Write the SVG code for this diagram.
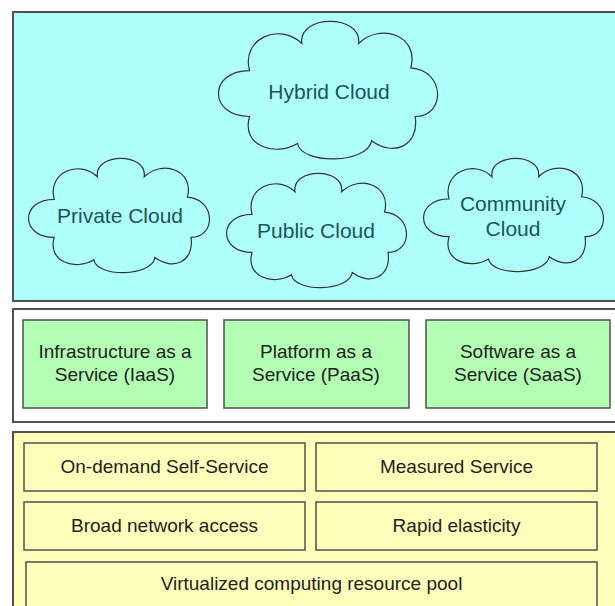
<svg xmlns="http://www.w3.org/2000/svg" width="615" height="606" viewBox="0 0 615 606">
<style>
.layer{stroke:#505050;stroke-width:2}
.box{stroke:#505050;stroke-width:1.5}
.cloud{fill:none;stroke:#333;stroke-width:1.2}
.ct{font-family:"Liberation Sans",Arial,sans-serif;font-size:21px;fill:#1a5555;text-anchor:middle}
.bt{font-family:"Liberation Sans",Arial,sans-serif;font-size:19px;fill:#222;text-anchor:middle}
</style>
<defs>
<path id="cloudShape" vector-effect="non-scaling-stroke" d="M14,70 C-5,70 -5,36 14,36 C10,12 28,0 38,16 C36,-6 66,-6 64,16 C74,0 92,10 88,34 C104,36 104,70 90,70 C92,92 80,100 70,88 C68,105 38,106 36,90 C26,100 10,92 14,70 Z"/>
</defs>
<rect width="615" height="606" fill="#ffffff"/>
<g id="layer-deployment">
<rect class="layer" x="13" y="12" width="610" height="289" fill="#b0ffff"/>
</g>
<g id="layer-service">
<rect class="layer" x="13" y="309" width="610" height="113" fill="#ffffff"/>
</g>
<g id="layer-characteristics">
<rect class="layer" x="13" y="432" width="610" height="190" fill="#ffffbb"/>
</g>
<g id="hybrid">
<use href="#cloudShape" class="cloud" transform="translate(219,22) scale(2.18,1.35)"/>
<text class="ct" x="329" y="99">Hybrid Cloud</text>
</g>
<g id="private">
<use href="#cloudShape" class="cloud" transform="translate(29,159) scale(1.8,1.12)"/>
<text class="ct" x="120" y="223">Private Cloud</text>
</g>
<g id="public">
<use href="#cloudShape" class="cloud" transform="translate(227,174) scale(1.79,1.12)"/>
<text class="ct" x="316" y="238">Public Cloud</text>
</g>
<g id="community">
<use href="#cloudShape" class="cloud" transform="translate(424,159) scale(1.79,1.11)"/>
<text class="ct" x="513" y="211">Community</text>
<text class="ct" x="513" y="236">Cloud</text>
</g>
<g id="iaas">
<rect class="box" x="23" y="320" width="184" height="88" fill="#b3ffb3"/>
<text class="bt" x="115" y="358">Infrastructure as a</text>
<text class="bt" x="115" y="381">Service (IaaS)</text>
</g>
<g id="paas">
<rect class="box" x="224" y="320" width="185" height="88" fill="#b3ffb3"/>
<text class="bt" x="316" y="358">Platform as a</text>
<text class="bt" x="316" y="381">Service (PaaS)</text>
</g>
<g id="saas">
<rect class="box" x="426" y="320" width="184" height="88" fill="#b3ffb3"/>
<text class="bt" x="518" y="358">Software as a</text>
<text class="bt" x="518" y="381">Service (SaaS)</text>
</g>
<g id="ondemand">
<rect class="box" x="24" y="443" width="281" height="48" fill="#ffffbb"/>
<text class="bt" x="164.5" y="473">On-demand Self-Service</text>
</g>
<g id="measured">
<rect class="box" x="316" y="443" width="281" height="48" fill="#ffffbb"/>
<text class="bt" x="456.5" y="473">Measured Service</text>
</g>
<g id="broad">
<rect class="box" x="24" y="502" width="281" height="48" fill="#ffffbb"/>
<text class="bt" x="164.5" y="532">Broad network access</text>
</g>
<g id="rapid">
<rect class="box" x="316" y="502" width="281" height="48" fill="#ffffbb"/>
<text class="bt" x="456.5" y="532">Rapid elasticity</text>
</g>
<g id="pool">
<rect class="box" x="26" y="562" width="571" height="60" fill="#ffffbb"/>
<text class="bt" x="311.5" y="590">Virtualized computing resource pool</text>
</g>
<g id="connectors"/>
</svg>
